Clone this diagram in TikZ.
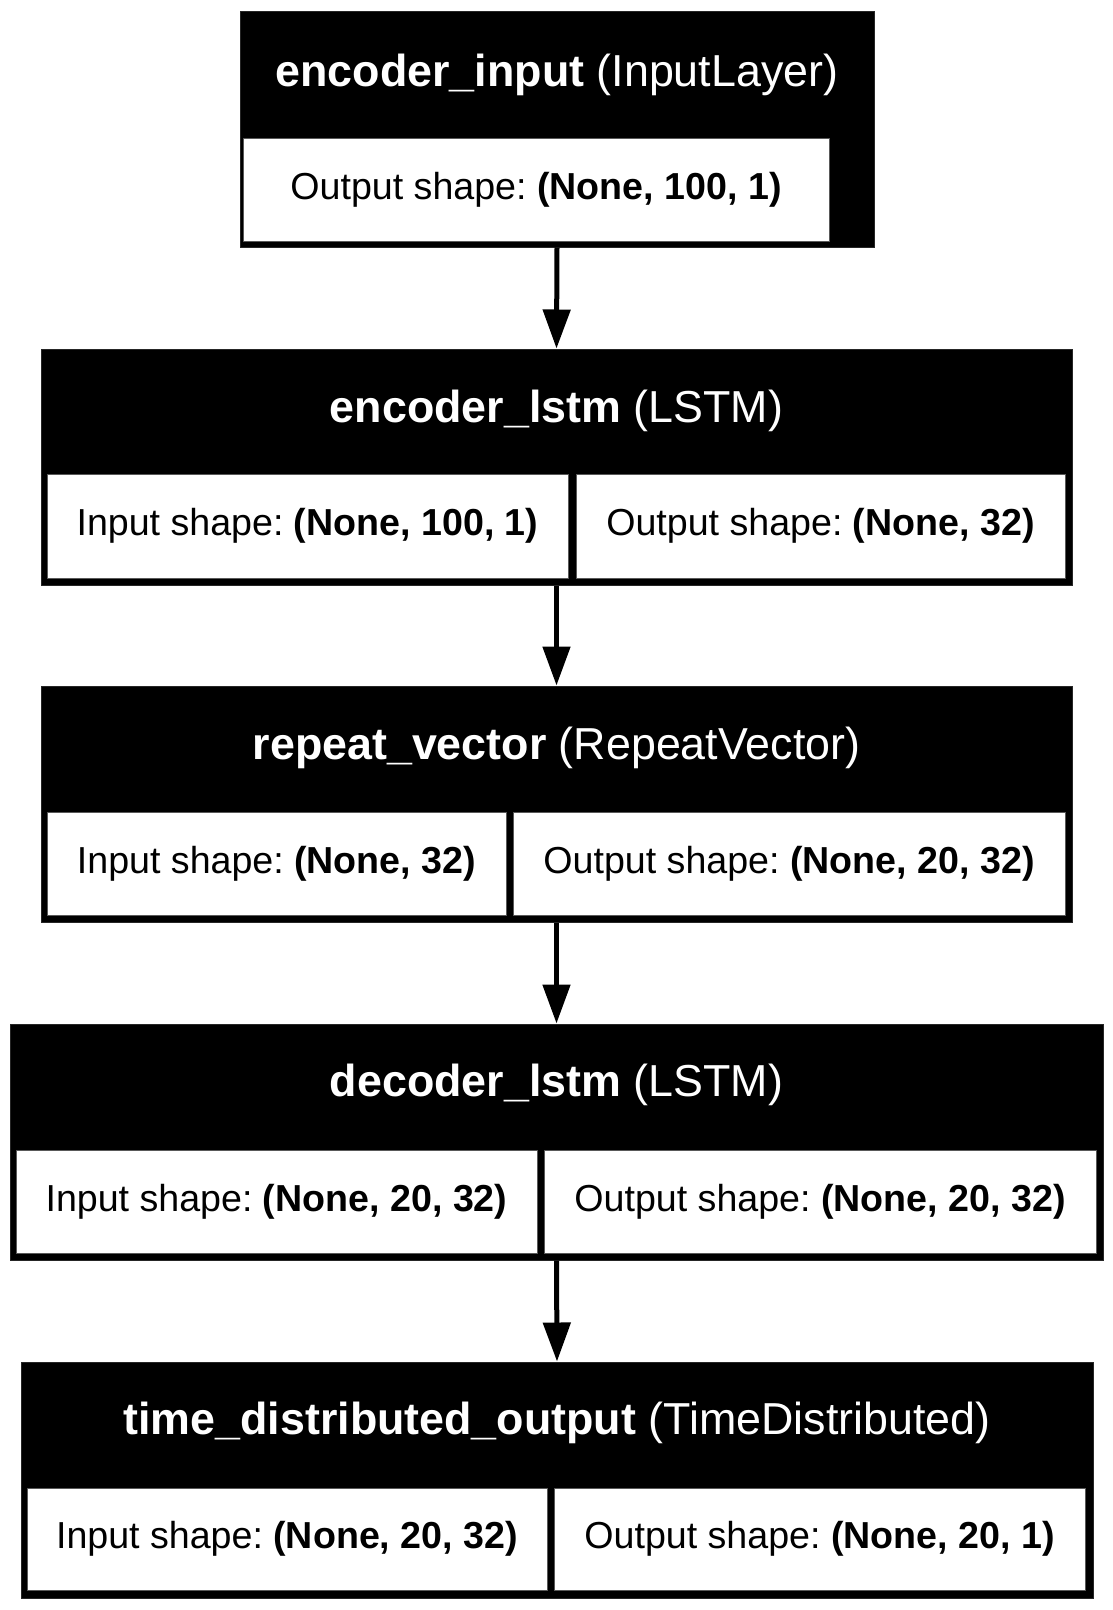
\documentclass[tikz,border=0pt]{standalone}
\usepackage{fontspec}
\setmainfont{Liberation Sans}
\usetikzlibrary{arrows.meta}
\begin{document}
\frenchspacing
\begin{tikzpicture}[x=1pt,y=-1pt,
  layerbox/.style={fill=black,draw=black!85,line width=1pt,inner sep=0pt},
  cellbox/.style={fill=white,draw=black!65,line width=1pt,inner sep=0pt,font=\fontsize{37.6}{42}\selectfont},
  titletext/.style={text=white,inner sep=0pt,font=\fontsize{44.8}{50}\selectfont},
  flow/.style={line width=5pt,-{Triangle[length=39pt,width=27pt]}}
]
\fill[white] (0,0) rectangle (1113,1610);
\useasboundingbox (0,0) rectangle (1113,1610);
% Box 1
\node[layerbox,minimum width=634pt,minimum height=236pt] (b1) at (557,129) {};
\node[titletext] (t1) at (557,75) {\textbf{encoder\_input} (InputLayer)};
\node[cellbox,minimum width=586pt,minimum height=103pt] (c1) at (536,189.5) {Output shape: \textbf{(None, 100, 1)}};
% Box 2
\node[layerbox,minimum width=1031pt,minimum height=236pt] (b2) at (556.5,467) {};
\node[titletext] (t2) at (556.5,411) {\textbf{encoder\_lstm} (LSTM)};
\node[cellbox,minimum width=521pt,minimum height=104pt] (c2a) at (307.5,526) {Input shape: \textbf{(None, 100, 1)}};
\node[cellbox,minimum width=489pt,minimum height=104pt] (c2b) at (820.5,526) {Output shape: \textbf{(None, 32)}};
% Box 3
\node[layerbox,minimum width=1031pt,minimum height=236pt] (b3) at (556.5,804) {};
\node[titletext] (t3) at (556.5,748) {\textbf{repeat\_vector} (RepeatVector)};
\node[cellbox,minimum width=459pt,minimum height=103pt] (c3a) at (276.5,863.5) {Input shape: \textbf{(None, 32)}};
\node[cellbox,minimum width=552pt,minimum height=103pt] (c3b) at (789,863.5) {Output shape: \textbf{(None, 20, 32)}};
% Box 4
\node[layerbox,minimum width=1093pt,minimum height=236pt] (b4) at (556.5,1142) {};
\node[titletext] (t4) at (556.5,1085) {\textbf{decoder\_lstm} (LSTM)};
\node[cellbox,minimum width=521pt,minimum height=103pt] (c4a) at (276.5,1201.5) {Input shape: \textbf{(None, 20, 32)}};
\node[cellbox,minimum width=552pt,minimum height=103pt] (c4b) at (820,1201.5) {Output shape: \textbf{(None, 20, 32)}};
% Box 5
\node[layerbox,minimum width=1072pt,minimum height=236pt] (b5) at (557,1480) {};
\node[titletext] (t5) at (557,1423) {\textbf{time\_distributed\_output} (TimeDistributed)};
\node[cellbox,minimum width=520pt,minimum height=102pt] (c5a) at (287,1539) {Input shape: \textbf{(None, 20, 32)}};
\node[cellbox,minimum width=531pt,minimum height=102pt] (c5b) at (819.5,1539) {Output shape: \textbf{(None, 20, 1)}};
% Arrows
\draw[flow] (b1.south) -- (b2.north);
\draw[flow] (b2.south) -- (b3.north);
\draw[flow] (b3.south) -- (b4.north);
\draw[flow] (b4.south) -- (b5.north);
\end{tikzpicture}
\end{document}
